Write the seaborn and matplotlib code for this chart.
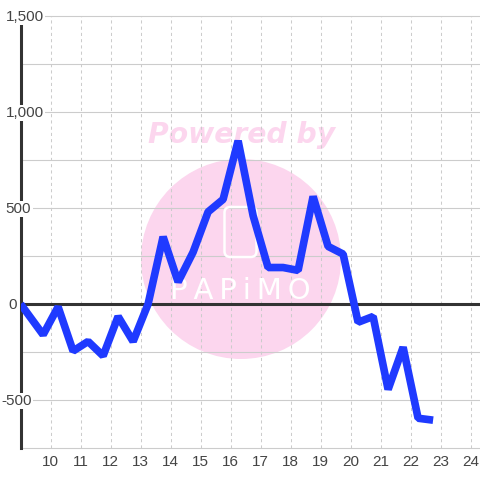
import matplotlib
matplotlib.use("Agg")
import matplotlib.pyplot as plt
from matplotlib.patches import Ellipse, FancyBboxPatch
import pandas as pd
import seaborn as sns

# Values
hours = [9.0, 9.75, 10.25, 10.75, 11.25, 11.75, 12.25, 12.75, 13.25, 13.75,
         14.25, 14.75, 15.25, 15.75, 16.25, 16.75, 17.25, 17.75, 18.25, 18.75,
         19.25, 19.75, 20.25, 20.75, 21.25, 21.75, 22.25, 22.75]
values = [0, -160, -15, -245, -195, -270, -65, -195, 0, 350,
          115, 270, 480, 545, 850, 460, 190, 190, 175, 560,
          300, 260, -95, -65, -445, -225, -595, -605]
x_ticks = list(range(10, 25))
y_major = [-500, 0, 500, 1000, 1500]
y_minor = [-750, -250, 250, 750, 1250]
y_labels = ["-500", "0", "500", "1,000", "1,500"]

data = pd.DataFrame({"hour": hours, "value": values})

sns.set_style("white")
plt.rcParams["font.family"] = ["Liberation Sans", "DejaVu Sans"]

W = 480.0
fig = plt.figure(figsize=(4.8, 4.8), dpi=100)
ax = fig.add_axes([20.6 / W, 32 / W, (W - 20.6) / W, 432 / W])
ax.set_xlim(9.0, 9.0 + (W - 20.6) / 30)
ax.set_ylim(-750, 1500)

# Grid
for y in y_major + y_minor:
    ax.axhline(y, color="#cccccc", lw=0.8, zorder=1, clip_on=False)
for x in x_ticks:
    ax.axvline(x, color="#cccccc", lw=0.75, ls=(0, (3, 3)), zorder=1)

# Watermark
pink = "#fcd6ee"
ax.add_patch(Ellipse((241 / W, (W - 259) / W), 200 / W, 200 / W, transform=fig.transFigure,
                     color=pink, zorder=0.5, lw=0))
ax.text(241.5 / W, (W - 135) / W, "Powered by", color=pink, fontsize=20.3, fontweight="bold",
        fontstyle="italic", family="DejaVu Sans", ha="center", va="center", zorder=0.5,
        transform=fig.transFigure)
ax.add_patch(FancyBboxPatch((224.5 / W, (W - 257) / W), 32 / W, 50 / W,
                            boxstyle="round,pad=0,rounding_size=0.012",
                            transform=fig.transFigure, fc="none", ec="white", lw=1.8, zorder=1.5))
ax.text(240 / W, (W - 291) / W, "P\u2009A\u2009P\u2009i\u2009M\u2009O", color="white", fontsize=21,
        family="DejaVu Sans", ha="center", va="center", zorder=1.5, transform=fig.transFigure)

# Zero line and series
ax.axhline(0, color="#333333", lw=2.2, zorder=2)
sns.lineplot(data=data, x="hour", y="value", ax=ax, color="#1f3aff", lw=5.5,
             solid_joinstyle="bevel", solid_capstyle="butt", zorder=3)

for side in ["top", "right", "bottom"]:
    ax.spines[side].set_visible(False)
ax.spines["left"].set_color("#333333")
ax.spines["left"].set_linewidth(2.2)
ax.spines["left"].set_bounds(-750, 1458)
ax.spines["left"].set_zorder(2)

ax.set_xlabel("")
ax.set_ylabel("")
ax.set_xticks(x_ticks)
ax.set_xticklabels([str(t) for t in x_ticks])
ax.tick_params(axis="x", length=0, pad=5, labelsize=11, labelcolor="#444444")
ax.set_yticks([])

# y labels sit on top of the axis line with a white backing
label_x = {"-500": 16.5, "0": 12.5, "500": 18.5, "1,000": 25, "1,500": 25}
for y, lab in zip(y_major, y_labels):
    ax.annotate(lab, xy=(label_x[lab] / W, y), xycoords=("figure fraction", "data"),
                xytext=(0, -0.8), textcoords="offset points",
                ha="center", va="center", fontsize=11, color="#444444", zorder=5,
                annotation_clip=False,
                bbox=dict(fc="white", ec="none", pad=1.0))

fig.savefig("out.png", dpi=100)
